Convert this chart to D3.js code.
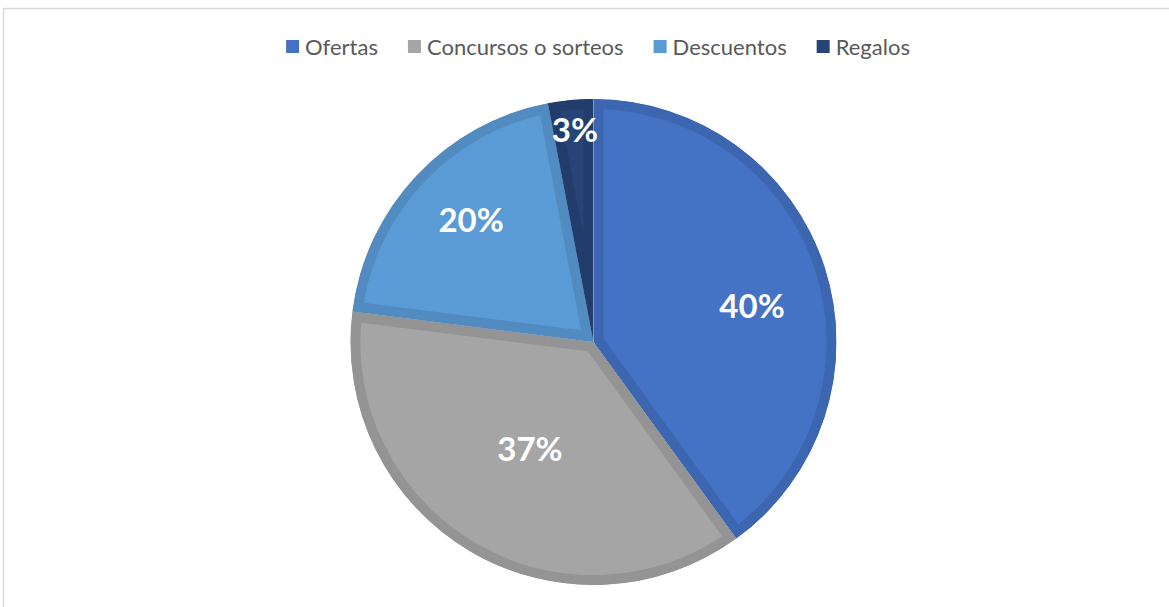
<!DOCTYPE html>
<html>
<head>
<meta charset="utf-8">
<script src="https://cdn.jsdelivr.net/npm/d3@7"></script>
<style>
  html, body { margin: 0; padding: 0; background: #fff; }
  svg { display: block; }
</style>
</head>
<body>
<svg width="1169" height="607"></svg>
<script>
const categories = ['Ofertas', 'Concursos o sorteos', 'Descuentos', 'Regalos'];
const values = [40, 37, 20, 3];
const colors = ['#4472C4', '#A5A5A5', '#5B9BD5', '#264478'];

// label placement (fraction of radius, angle in degrees from 12 o'clock)
const labelAt = [[0.669, 77.2], [0.512, 210.7], [0.711, 314.9], [0.876, 355]];

const svg = d3.select('svg');
const width = +svg.attr('width');
const height = +svg.attr('height');

// chart frame
svg.append('rect')
  .attr('x', 3.5).attr('y', 8.5)
  .attr('width', width + 10).attr('height', height + 10)
  .attr('fill', 'none')
  .attr('stroke', '#d9d9d9')
  .attr('stroke-width', 1.5);

const cx = 593.5;
const cy = 342;
const r = 243;

const pie = d3.pie().sort(null).value(d => d);
const arc = d3.arc().innerRadius(0).outerRadius(r);
const arcs = pie(values);

const defs = svg.append('defs');
const g = svg.append('g').attr('transform', `translate(${cx},${cy})`);

arcs.forEach((a, i) => {
  defs.append('clipPath').attr('id', 'clip' + i)
    .append('path').attr('d', arc(a));

  g.append('path')
    .attr('d', arc(a))
    .attr('fill', colors[i])
    .attr('stroke', d3.color(colors[i]).darker(0.3))
    .attr('stroke-width', 20)
    .attr('stroke-linejoin', 'miter')
    .attr('clip-path', `url(#clip${i})`);
});

g.selectAll('text.lbl')
  .data(arcs)
  .join('text')
  .attr('class', 'lbl')
  .attr('transform', (d, i) => {
    const p = d3.pointRadial(labelAt[i][1] * Math.PI / 180, labelAt[i][0] * r);
    return `translate(${p[0]},${p[1]})`;
  })
  .attr('text-anchor', 'middle')
  .attr('dy', '0.36em')
  .attr('fill', '#fff')
  .style('font-family', 'Lato, "Open Sans", sans-serif')
  .style('font-weight', 'bold')
  .style('font-size', '33px')
  .text(d => Math.round(d.value / d3.sum(values) * 100) + '%');

// legend
const legend = svg.append('g');
const item = legend.selectAll('g')
  .data(categories)
  .join('g');

item.append('rect')
  .attr('width', 13).attr('height', 13)
  .attr('y', -7)
  .attr('fill', (d, i) => colors[i]);

item.append('text')
  .attr('x', 19)
  .attr('dy', '0.35em')
  .attr('fill', '#595959')
  .style('font-family', 'Lato, "Open Sans", sans-serif')
  .style('font-size', '22px')
  .text(d => d);

const gap = 30;
let x = 0;
item.each(function () {
  const w = 19 + d3.select(this).select('text').node().getComputedTextLength();
  d3.select(this).attr('transform', `translate(${x},0)`);
  x += w + gap;
});
const total = x - gap;
legend.attr('transform', `translate(${598 - total / 2},47)`);
</script>
</body>
</html>
